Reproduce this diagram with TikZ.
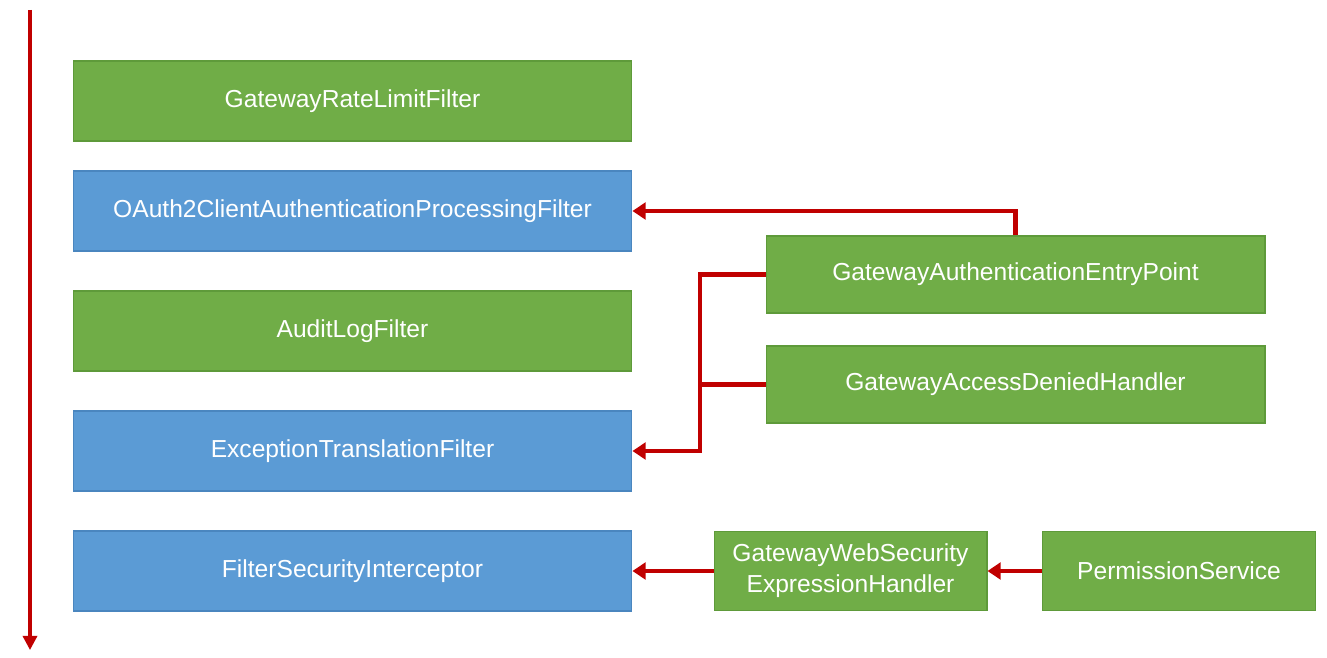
\documentclass[tikz,border=0pt]{standalone}
\usepackage{fontspec}
\setmainfont{Liberation Sans}
\definecolor{leaf}{HTML}{70AD47}
\definecolor{leafedge}{HTML}{5E9A3A}
\definecolor{sky}{HTML}{5B9BD5}
\definecolor{skyedge}{HTML}{4A86BF}
\definecolor{flow}{HTML}{C00000}
\usetikzlibrary{positioning,arrows.meta}

\begin{document}
\begin{tikzpicture}[
  x=0.02cm,y=-0.02cm,
  font=\fontsize{14}{17.5}\selectfont,
  filterbox/.style={draw=skyedge,line width=0.6pt,fill=sky,text=white,
    minimum width=11.18cm,minimum height=1.6cm,align=center,inner sep=2pt},
  chainbox/.style={filterbox,draw=leafedge,fill=leaf},
  handlerbox/.style={chainbox,minimum width=9.98cm,minimum height=1.54cm},
  exprbox/.style={chainbox,minimum width=5.46cm,minimum height=1.58cm},
  link/.style={draw=flow,line width=2.4pt,
    -{Triangle[length=7.5pt,width=9.5pt]}}
]
\useasboundingbox (0,0) rectangle (1327,658);

% Filter chain
\node[chainbox] (ratelimit) at (352.5,101) {GatewayRateLimitFilter};
\node[filterbox] (oauth) at (352.5,211) {OAuth2ClientAuthenticationProcessingFilter};
\node[chainbox] (auditlog) at (352.5,331) {AuditLogFilter};
\node[filterbox] (exctrans) at (352.5,451) {ExceptionTranslationFilter};
\node[filterbox] (fsi) at (352.5,571) {FilterSecurityInterceptor};

% Handlers
\node[handlerbox] (entrypoint) at (1015.5,274.5) {GatewayAuthenticationEntryPoint};
\node[handlerbox] (denied) at (1015.5,384.5) {GatewayAccessDeniedHandler};
\node[exprbox] (exprhandler) at (850.5,571) {GatewayWebSecurity\\ExpressionHandler};
\node[exprbox] (permission) at (1179,571) {PermissionService};

% Order axis
\coordinate (axistop) at (30,10);
\coordinate (axisend) at (30,650);
\draw[flow,line width=1.8pt,-{Triangle[length=8pt,width=8pt]}] (axistop) -- (axisend);

% Connectors
\coordinate (joint) at (700,0);
\draw[link] (entrypoint.north) |- (oauth.east);
\draw[link] (entrypoint.west) -| (joint |- exctrans.east) -- (exctrans.east);
\draw[draw=flow,line width=2.4pt] (denied.west) -- (joint |- denied.west);
\draw[link] (exprhandler) -- (fsi);
\draw[link] (permission) -- (exprhandler);
\end{tikzpicture}
\end{document}
